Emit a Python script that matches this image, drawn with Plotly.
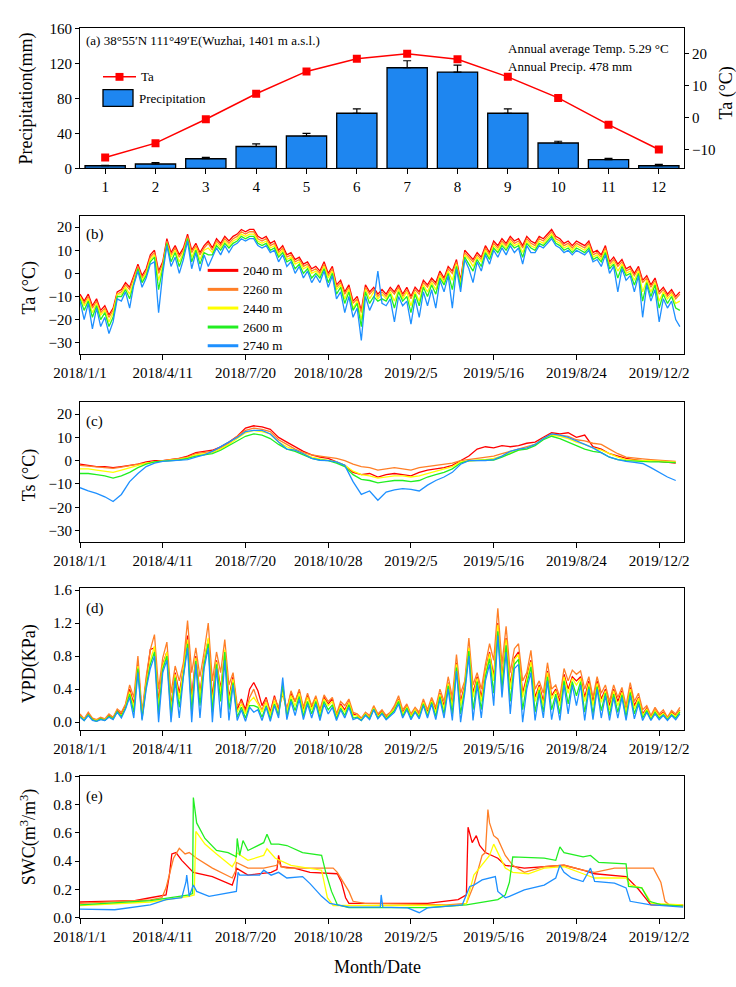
import numpy as np
import pandas as pd
import plotly.graph_objects as go

# ---------------- data ----------------
MONTHS = list(range(1, 13))
PRECIP = [3, 5, 11, 25, 37, 63, 115, 110, 63, 29, 10, 3]
PRECIP_ERR = [0.5, 1.5, 1.5, 3, 3, 5, 8, 8, 5, 2, 1.5, 1.5]
TA_MONTH = [-12.5, -8, -0.5, 7.5, 14.5, 18.5, 20, 18.3, 12.8, 6.2, -2.2, -10]

ELEV = ["2040 m", "2260 m", "2440 m", "2600 m", "2740 m"]
COLORS = ["#FF0000", "#FF7F27", "#FFFF00", "#22EE22", "#1E90FF"]
START = pd.Timestamp("2018-01-01")
DAYS5 = np.arange(0, 730, 5)
DAYS10 = np.arange(0, 730, 10)
TICK_DATES = ["2018-01-01", "2018-04-11", "2018-07-20", "2018-10-28",
              "2019-02-05", "2019-05-16", "2019-08-24", "2019-12-02"]
TICK_TEXT = ["2018/1/1", "2018/4/11", "2018/7/20", "2018/10/28",
             "2019/2/5", "2019/5/16", "2019/8/24", "2019/12/2"]

# (b) air temperature, every 5 days
TA_2040 = [-9,-12,-9,-14,-11,-16,-14,-18,-15,-8, -7,-4,-6,-1,4,-1,2,8,10,1,
           5,15,9,12,8,11,17,10,13,9, 12,14,11,15,13,16,14,16,17,19,
           18,19,19,16,15,16,13,14,10,12, 8,9,6,7,4,5,2,3,1,5,
           0,3,-5,-3,-8,-5,-12,-10,-16,-5, -8,-6,-9,-7,-9,-6,-8,-5,-9,-6,
           -10,-6,-8,-3,-5,-2,-4,1,-2,3, 1,6,-3,10,8,6,9,7,12,9,
           14,12,15,13,16,14,15,12,16,14, 13,16,15,17,19,16,15,13,14,12,
           14,13,12,14,9,10,8,12,5,7, 4,6,2,3,0,3,-3,-1,-5,-2, -8,-6,-9,-7,-10,-8]
TA_2260 = [-10,-13,-10,-15,-12,-17,-15,-19,-16,-9, -8,-5,-7,-2,3,-2,1,7,9,0,
           4,14,8,11,7,10,16,9,12,8, 11,13,10,14,12,15,13,15,16,18,
           17,18,18,15,14,15,12,13,9,11, 7,8,5,6,3,4,1,2,0,4,
           -1,2,-6,-4,-9,-6,-13,-11,-17,-6, -9,-7,-10,-8,-10,-7,-9,-6,-10,-7,
           -11,-7,-9,-4,-6,-3,-5,0,-3,2, 0,5,-4,9,7,5,8,6,11,8,
           13,11,14,12,15,13,14,11,15,13, 12,15,14,16,18,15,14,12,13,11,
           13,12,11,13,8,9,7,11,4,6, 3,5,1,2,-1,2,-4,-2,-6,-3, -9,-7,-10,-8,-11,-9]
TA_2440 = [-10,-14,-11,-17,-13,-18,-16,-21,-17,-9, -9,-6,-9,-3,2,-3,0,6,8,-3,
           3,13,7,10,5,9,15,7,11,6, 10,11,9,13,11,14,12,14,15,17,
           16,17,17,14,13,14,11,12,8,10, 6,7,4,5,2,3,0,1,-1,3,
           -2,1,-7,-5,-11,-7,-15,-12,-20,-7, -11,-8,-11,-9,-11,-8,-12,-7,-11,-8,
           -14,-8,-12,-5,-8,-4,-7,-1,-4,1, -3,4,-5,8,6,3,7,5,10,7,
           12,10,13,11,14,12,13,9,14,12, 11,14,13,15,17,14,13,11,12,10,
           12,11,10,12,7,8,6,10,3,5, 1,4,0,1,-3,1,-8,-3,-8,-4, -12,-8,-11,-9,-13,-12]
TA_2600 = [-11,-16,-12,-19,-14,-20,-17,-23,-19,-10, -10,-7,-11,-4,2,-4,-1,5,7,-7,
           2,13,5,9,3,8,15,5,10,4, 9,8,8,12,10,13,11,13,14,16,
           15,16,16,13,12,13,10,11,7,9, 5,6,2,4,0,2,-2,0,-2,2,
           -4,0,-9,-6,-13,-8,-16,-13,-23,-8, -13,-10,-12,-11,-12,-9,-15,-8,-12,-10,
           -17,-9,-14,-6,-10,-5,-9,-2,-5,0, -7,3,-6,7,4,1,6,3,9,6,
           11,9,12,10,13,11,12,7,13,11, 10,13,12,14,16,13,12,10,11,9,
           11,10,9,11,6,7,5,9,2,4, -2,3,-1,0,-5,0,-12,-4,-10,-5, -15,-9,-13,-10,-15,-16]
TA_2740 = [-12,-20,-13,-24,-15,-23,-19,-26,-21,-11, -12,-8,-15,-5,1,-6,-2,4,5,-17,
           0,12,3,7,0,6,14,2,9,1, 8,3,7,11,8,12,9,12,13,15,
           14,15,15,12,11,12,9,10,5,8, 3,5,0,3,-2,1,-4,-1,-4,1,
           -6,-1,-11,-8,-17,-10,-19,-15,-29,-10, -16,-12,1,-13,-14,-11,-21,-10,-14,-12,
           -22,-11,-19,-8,-14,-7,-15,-3,-8,-1, -15,2,-8,6,2,-4,5,1,8,4,
           10,7,11,8,12,9,11,4,12,9, 9,12,11,13,15,12,11,9,10,8,
           10,9,8,10,5,6,3,8,0,3, -8,2,-3,-1,-8,-1,-19,-5,-12,-7, -21,-11,-15,-12,-20,-23]

# (c) soil temperature, every 10 days
TS_2040 = [-1.5,-2,-2.5,-2.5,-3,-2.5,-2,-1.5,-0.5,0, 0,0.5,1,2,3.5,4,4.5,6,8,10.5,
           14,15,14.5,13.5,10,8,6,4,2.5,1.5, 1,-0.5,-2,-5,-6,-5.5,-7,-6,-5.5,-6,
           -6.5,-5,-4,-3.5,-3,-2,0,2,5,6, 5.5,6.5,6,6.5,7.5,8,10,12,11.5,12,
           10,11,6,5,3,2,1,0.5,0,0, -0.3,-0.5,-1]
TS_2260 = [-2,-2.3,-2.7,-3,-3.3,-2.8,-2,-1.5,-1,-0.5, 0,0.3,0.8,1.5,3,3.5,4,5.5,7.5,10.5,
           13,14,13.5,12.5,9,7,5,3.5,2.5,2, 1.5,1,0,-1.5,-2.5,-3,-4,-3.5,-3,-3.5,
           -4,-3,-2.5,-2,-1.5,-1,0,0.5,1,1.5, 2,3,4,5,6,7,9.5,11.5,11,10.5,
           9,8.5,7.5,7,5,3,1.5,1,0.8,0.5, 0.3,0,-0.3]
TS_2440 = [-3.5,-3.5,-4,-4.5,-5,-4,-3,-2,-1,-0.5, 0,0.2,0.6,1.2,2.5,3,3.5,5,7,9.5,
           12,13,12.5,11.5,8,6,4.5,3,1.5,0.8, 0.3,-0.5,-2,-4.5,-6,-6.5,-7.5,-7,-6.5,-6.5,
           -7,-6.5,-5.5,-4.5,-3.5,-2.5,-0.5,0,0.2,0.5, 1,2,3.5,4.5,5.5,7,9.5,11,10.5,9.5,
           8,7,5.5,4.5,3,1.5,0.5,0.2,0,0, -0.2,-0.4,-0.6]
TS_2600 = [-5.5,-5.5,-6,-6.5,-7.5,-6.5,-5,-3,-1.5,-0.5, -0.2,0,0.3,1,2,2.5,3,4.5,6.5,8.5,
           10.5,11.5,11,9.5,7,5,4,2.5,1,0.3, 0,-1,-2.5,-6,-8,-8.5,-9.5,-9,-8.5,-8.5,
           -9,-8.5,-7,-6,-5,-3.5,-1,0,0,0, 0.3,1.5,3,4.5,5,6.5,9,10.5,9.5,8,
           6.5,5,4,3.5,1.5,0.5,0,-0.2,-0.5,-0.5, -0.5,-0.6,-0.8]
TS_2740 = [-11.6,-13,-14,-15.5,-17.5,-14.5,-9,-5.5,-2.5,-1, -0.3,0,0.3,0.5,1.5,2.5,4,6,8,10,
           12.5,13,13,11.5,8,5,4.5,3,1,0.2, 0,-0.5,-2,-9,-14.5,-13,-17,-13.5,-12.5,-12,
           -12.3,-13,-10.5,-8.5,-7,-5,-1.5,0,0,0, 0.5,2,4,5,5.5,7,9.5,11.5,11,10,
           8.5,7,5.5,3.5,1.5,0.5,-0.3,-0.7,-1.2,-3, -5,-7,-8.5]

# (d) VPD, every 5 days
VPD_2040 = [0.08,0.03,0.10,0.04,0.02,0.05,0.03,0.08,0.05,0.14, 0.10,0.20,0.40,0.22,0.70,0.08,0.50,0.88,0.90,0.25,
            0.70,0.85,0.20,0.60,0.35,0.65,1.05,0.30,0.80,0.35, 0.75,1.00,0.30,0.75,0.40,0.85,0.30,0.55,0.15,0.28,
            0.15,0.40,0.48,0.38,0.20,0.30,0.12,0.32,0.15,0.35, 0.15,0.35,0.25,0.38,0.15,0.33,0.18,0.30,0.12,0.30,
            0.22,0.28,0.08,0.22,0.15,0.25,0.10,0.08,0.04,0.10, 0.06,0.18,0.08,0.13,0.06,0.10,0.17,0.28,0.12,0.20,
            0.08,0.15,0.10,0.25,0.12,0.27,0.15,0.35,0.20,0.48, 0.22,0.72,0.25,0.45,0.90,0.35,0.55,0.30,0.62,0.85,
            0.55,1.20,0.55,1.02,0.45,0.78,0.85,0.35,0.55,0.75, 0.30,0.45,0.25,0.62,0.32,0.40,0.25,0.58,0.40,0.55,
            0.50,0.55,0.30,0.50,0.25,0.50,0.28,0.40,0.20,0.40, 0.25,0.38,0.15,0.42,0.20,0.30,0.10,0.17,0.06,0.15,
            0.08,0.12,0.05,0.12,0.08,0.15]
VPD_2260 = [0.10,0.04,0.12,0.05,0.03,0.06,0.04,0.10,0.06,0.16, 0.12,0.22,0.45,0.30,0.80,0.12,0.55,0.88,1.06,0.40,
            0.78,0.97,0.35,0.68,0.50,0.72,1.23,0.60,0.90,0.55, 0.85,1.20,0.50,0.85,0.60,1.00,0.45,0.60,0.20,0.25,
            0.12,0.30,0.40,0.25,0.15,0.28,0.10,0.30,0.18,0.40, 0.15,0.38,0.25,0.40,0.18,0.35,0.20,0.32,0.15,0.33,
            0.25,0.30,0.10,0.25,0.20,0.28,0.12,0.10,0.05,0.12, 0.08,0.20,0.10,0.15,0.08,0.12,0.20,0.32,0.15,0.22,
            0.10,0.18,0.12,0.28,0.15,0.30,0.18,0.40,0.25,0.55, 0.30,0.82,0.35,0.50,1.02,0.45,0.60,0.40,0.70,0.95,
            0.75,1.38,0.70,1.16,0.60,0.89,0.95,0.50,0.60,0.87, 0.40,0.50,0.35,0.72,0.40,0.45,0.30,0.65,0.50,0.63,
            0.58,0.62,0.40,0.55,0.30,0.55,0.35,0.45,0.25,0.45, 0.30,0.42,0.20,0.48,0.25,0.35,0.15,0.20,0.08,0.18,
            0.10,0.15,0.06,0.14,0.10,0.18]
VPD_2440 = [0.07,0.03,0.09,0.03,0.02,0.04,0.03,0.07,0.04,0.13, 0.08,0.18,0.37,0.18,0.68,0.06,0.46,0.75,0.92,0.18,
            0.68,0.85,0.15,0.58,0.28,0.62,1.00,0.22,0.78,0.30, 0.73,1.02,0.22,0.73,0.35,0.88,0.25,0.52,0.12,0.22,
            0.10,0.25,0.30,0.22,0.12,0.24,0.08,0.26,0.12,0.36, 0.12,0.32,0.20,0.35,0.12,0.30,0.15,0.28,0.10,0.28,
            0.20,0.25,0.06,0.20,0.12,0.24,0.08,0.08,0.03,0.10, 0.05,0.17,0.07,0.12,0.05,0.10,0.16,0.27,0.10,0.19,
            0.07,0.15,0.08,0.24,0.10,0.26,0.12,0.34,0.16,0.47, 0.18,0.70,0.20,0.43,0.90,0.30,0.53,0.25,0.60,0.83,
            0.50,1.18,0.50,1.00,0.40,0.76,0.82,0.30,0.52,0.73, 0.25,0.43,0.20,0.60,0.28,0.38,0.20,0.55,0.35,0.53,
            0.45,0.53,0.25,0.47,0.20,0.47,0.24,0.38,0.15,0.38, 0.20,0.36,0.12,0.40,0.16,0.29,0.08,0.16,0.05,0.14,
            0.07,0.11,0.04,0.11,0.07,0.14]
VPD_2600 = [0.07,0.02,0.09,0.03,0.01,0.04,0.02,0.07,0.04,0.13, 0.07,0.17,0.34,0.12,0.65,0.04,0.43,0.70,0.85,0.10,
            0.64,0.80,0.08,0.54,0.18,0.58,0.95,0.12,0.74,0.20, 0.69,0.95,0.12,0.70,0.25,0.85,0.15,0.48,0.06,0.18,
            0.05,0.20,0.20,0.18,0.06,0.20,0.04,0.22,0.08,0.45, 0.07,0.28,0.14,0.31,0.07,0.25,0.10,0.25,0.05,0.25,
            0.15,0.21,0.04,0.17,0.08,0.21,0.05,0.06,0.02,0.09, 0.04,0.16,0.05,0.11,0.04,0.09,0.14,0.25,0.07,0.17,
            0.05,0.13,0.06,0.22,0.07,0.24,0.07,0.31,0.10,0.44, 0.10,0.66,0.10,0.39,0.86,0.15,0.49,0.15,0.55,0.77,
            0.35,1.10,0.40,0.93,0.25,0.70,0.76,0.15,0.46,0.67, 0.12,0.39,0.12,0.55,0.15,0.34,0.10,0.50,0.22,0.49,
            0.32,0.49,0.12,0.43,0.10,0.43,0.14,0.35,0.08,0.34, 0.12,0.33,0.06,0.36,0.10,0.25,0.05,0.14,0.03,0.12,
            0.05,0.09,0.03,0.09,0.05,0.12]
VPD_2740 = [0.06,0.02,0.08,0.02,0.01,0.03,0.02,0.06,0.03,0.12, 0.05,0.16,0.30,0.05,0.60,0.02,0.40,0.65,0.80,0.00,
            0.60,0.75,0.00,0.50,0.05,0.55,0.90,0.00,0.70,0.05, 0.65,0.90,0.00,0.65,0.05,0.75,0.02,0.45,0.02,0.15,
            0.01,0.18,0.12,0.15,0.02,0.18,0.01,0.20,0.05,0.54, 0.03,0.25,0.08,0.28,0.03,0.22,0.05,0.22,0.02,0.22,
            0.10,0.18,0.02,0.15,0.05,0.18,0.03,0.05,0.02,0.08, 0.03,0.15,0.04,0.10,0.03,0.08,0.12,0.22,0.05,0.15,
            0.03,0.12,0.04,0.20,0.05,0.22,0.03,0.28,0.05,0.40, 0.02,0.62,0.00,0.35,0.80,0.02,0.45,0.05,0.50,0.70,
            0.20,1.05,0.30,0.85,0.10,0.65,0.70,0.00,0.40,0.60, 0.02,0.35,0.05,0.50,0.03,0.30,0.02,0.45,0.10,0.45,
            0.20,0.45,0.02,0.40,0.03,0.40,0.05,0.32,0.02,0.30, 0.05,0.30,0.02,0.32,0.04,0.22,0.02,0.12,0.02,0.10,
            0.03,0.08,0.02,0.08,0.03,0.10]

# (e) soil water content, (day since 2018-01-01, value) break points
SWC_2040_DAY = [0,66,85,104,108,111,116,123,137,160, 184,188,189,203,231,238,240,243,259,278,
                311,316,321,325,420,457,467,469,474,479, 483,490,505,514,537,561,585,608,622,660, 675,690,729]
SWC_2040 = [0.11,0.12,0.14,0.16,0.30,0.45,0.46,0.405,0.32,0.29, 0.23,0.30,0.35,0.30,0.32,0.34,0.44,0.36,0.35,0.32,
            0.31,0.25,0.14,0.10,0.10,0.127,0.16,0.64,0.53,0.58, 0.51,0.46,0.42,0.37,0.35,0.36,0.37,0.335,0.31,0.29,
            0.20,0.09,0.085]
SWC_2260_DAY = [0,85,99,104,113,120,127,132,141,160, 184,188,189,203,222,238,240,243,250,278,
                306,311,325,330,344,443,467,476,486,490, 493,495,500,505,514,523,537,561,585,608,
                622,646,693,702,707,712,729]
SWC_2260 = [0.10,0.125,0.14,0.21,0.42,0.49,0.45,0.46,0.42,0.35, 0.28,0.33,0.39,0.35,0.35,0.37,0.40,0.36,0.35,0.35,
            0.35,0.32,0.185,0.115,0.10,0.09,0.10,0.23,0.44,0.46, 0.765,0.67,0.58,0.556,0.44,0.37,0.32,0.36,0.37,0.335,
            0.32,0.35,0.35,0.25,0.115,0.09,0.09]
SWC_2440_DAY = [0,85,132,138,140,151,165,184,188,189, 203,222,226,236,255,278,292,299,306,457,
                467,476,486,495,500,514,523,542,561,585, 608,622,660,665,679,691,729]
SWC_2440 = [0.085,0.11,0.15,0.16,0.61,0.52,0.45,0.36,0.40,0.46, 0.405,0.44,0.487,0.42,0.37,0.35,0.335,0.14,0.085,0.085,
            0.10,0.30,0.37,0.44,0.52,0.35,0.32,0.31,0.35,0.36, 0.31,0.28,0.28,0.23,0.21,0.10,0.09]
SWC_2600_DAY = [0,85,132,136,137,141,151,165,179,189, 190,193,197,203,222,226,231,240,250,269,
                292,297,304,311,325,420,467,505,514,519, 523,561,575,580,585,608,617,627,660,663,
                679,688,702,729]
SWC_2600 = [0.09,0.12,0.16,0.17,0.85,0.67,0.56,0.475,0.46,0.43, 0.56,0.44,0.545,0.475,0.53,0.59,0.52,0.52,0.51,0.46,
            0.44,0.32,0.185,0.09,0.07,0.07,0.09,0.127,0.16,0.25, 0.43,0.42,0.405,0.50,0.46,0.43,0.44,0.39,0.38,0.22,
            0.21,0.115,0.092,0.08]
SWC_2740_DAY = [0,42,85,104,123,128,129,131,132,137, 141,156,174,189,191,193,217,222,231,240,
                250,269,278,292,302,325,363,364,366,396, 410,420,462,471,476,486,502,505,514,519,
                537,561,575,580,585,594,608,617,622,646, 660,665,688,729]
SWC_2740 = [0.06,0.055,0.09,0.127,0.14,0.25,0.30,0.20,0.15,0.23, 0.185,0.15,0.17,0.185,0.32,0.30,0.30,0.335,0.30,0.32,
            0.28,0.29,0.24,0.15,0.10,0.073,0.073,0.16,0.073,0.068, 0.034,0.068,0.09,0.22,0.23,0.266,0.29,0.185,0.14,0.15,
            0.196,0.23,0.28,0.37,0.32,0.28,0.255,0.35,0.255,0.243, 0.21,0.115,0.092,0.073]

# ---------------- helpers ----------------
W, H = 736, 987
ML, MR = 80, 52
PW = W - ML - MR


def px(x):
    return (x - ML) / PW


def py(y):
    return 1 - y / H


def to_dates(days):
    return START + pd.to_timedelta(np.asarray(days), unit="D")


FONT = "Liberation Serif, Times New Roman, serif"
BAR_BLUE = "#1E86F0"

fig = go.Figure()

# (a)
fig.add_trace(go.Bar(x=MONTHS, y=PRECIP, xaxis="x", yaxis="y", width=0.8,
                     marker=dict(color=BAR_BLUE, line=dict(color="black", width=1.3)),
                     error_y=dict(type="data", symmetric=False, array=PRECIP_ERR,
                                  arrayminus=[0] * 12, color="black", thickness=1.2, width=4),
                     showlegend=False, name="Precipitation"))
fig.add_trace(go.Scatter(x=MONTHS, y=TA_MONTH, xaxis="x", yaxis="y2", mode="lines+markers",
                         line=dict(color="#FF0000", width=1.5),
                         marker=dict(symbol="square", size=8, color="#FF0000"),
                         showlegend=False, name="Ta"))

d5 = to_dates(DAYS5)
d10 = to_dates(DAYS10)
TA = [TA_2040, TA_2260, TA_2440, TA_2600, TA_2740]
TS = [TS_2040, TS_2260, TS_2440, TS_2600, TS_2740]
VPD = [VPD_2040, VPD_2260, VPD_2440, VPD_2600, VPD_2740]
SWC = [(SWC_2040_DAY, SWC_2040), (SWC_2260_DAY, SWC_2260), (SWC_2440_DAY, SWC_2440),
       (SWC_2600_DAY, SWC_2600), (SWC_2740_DAY, SWC_2740)]

for k in range(5):
    fig.add_trace(go.Scatter(x=d5, y=TA[k], xaxis="x2", yaxis="y3", mode="lines",
                             line=dict(color=COLORS[k], width=1.3), showlegend=False, name=ELEV[k]))
for k in range(5):
    fig.add_trace(go.Scatter(x=d10, y=TS[k], xaxis="x3", yaxis="y4", mode="lines",
                             line=dict(color=COLORS[k], width=1.3), showlegend=False, name=ELEV[k]))
for k in range(5):
    fig.add_trace(go.Scatter(x=d5, y=VPD[k], xaxis="x4", yaxis="y5", mode="lines",
                             line=dict(color=COLORS[k], width=1.3), showlegend=False, name=ELEV[k]))
for k in range(5):
    dd, vv = SWC[k]
    fig.add_trace(go.Scatter(x=to_dates(dd), y=vv, xaxis="x5", yaxis="y6", mode="lines",
                             line=dict(color=COLORS[k], width=1.3), showlegend=False, name=ELEV[k]))

# ---------------- layout ----------------
DOM_A = [py(163), py(20.7)]
DOM_B = [py(352), py(211)]
DOM_C = [py(543), py(401)]
DOM_D = [py(734.3), py(590)]
DOM_E = [py(924.5), py(781)]

TICKF = dict(family=FONT, size=15, color="black")
common = dict(showline=True, linecolor="black", linewidth=1.2, mirror=True, showgrid=False,
              zeroline=False, tickfont=TICKF, ticks="outside", ticklen=5, tickcolor="black")


def date_axis(anchor):
    return dict(common, type="date", anchor=anchor, domain=[0, 1],
                range=["2018-01-01", "2020-01-01"], tickvals=TICK_DATES, ticktext=TICK_TEXT)


def y_axis(anchor, dom, rng, tv, fmt=None):
    d = dict(common, anchor=anchor, domain=dom, range=rng, tickvals=tv, ticklen=4)
    if fmt:
        d["tickformat"] = fmt
    return d


layout = dict(
    width=W, height=H, margin=dict(l=ML, r=MR, t=0, b=0),
    paper_bgcolor="white", plot_bgcolor="white",
    font=dict(family=FONT, color="black"),
    showlegend=False,
    xaxis=dict(common, anchor="y", domain=[0, 1], range=[0.5, 12.5], tickvals=MONTHS),
    yaxis=y_axis("x", DOM_A, [0, 160], [0, 40, 80, 120, 160]),
    yaxis2=dict(overlaying="y", anchor="x", side="right", range=[-15.9, 28],
                tickvals=[-10, 0, 10, 20], showgrid=False, zeroline=False, showline=False,
                ticks="outside", ticklen=4, tickcolor="black", tickfont=TICKF),
    xaxis2=date_axis("y3"),
    yaxis3=y_axis("x2", DOM_B, [-35, 25], [-30, -20, -10, 0, 10, 20]),
    xaxis3=date_axis("y4"),
    yaxis4=y_axis("x3", DOM_C, [-35, 25], [-30, -20, -10, 0, 10, 20]),
    xaxis4=date_axis("y5"),
    yaxis5=y_axis("x4", DOM_D, [-0.1, 1.62], [0, 0.4, 0.8, 1.2, 1.6], ".1f"),
    xaxis5=date_axis("y6"),
    yaxis6=y_axis("x5", DOM_E, [0, 1.0], [0, 0.2, 0.4, 0.6, 0.8, 1.0], ".1f"),
)
fig.update_layout(**layout)


def ann(text, x, y, size=13, xanchor="left", angle=0):
    fig.add_annotation(text=text, x=px(x), y=py(y), xref="paper", yref="paper",
                       showarrow=False, xanchor=xanchor, yanchor="middle", textangle=angle,
                       font=dict(family=FONT, size=size, color="black"))


ann("(a) 38°55′N 111°49′E(Wuzhai, 1401 m a.s.l.)", 84, 33)
ann("Annual average Temp. 5.29 °C", 506, 41)
ann("Annual Precip. 478 mm", 506, 59)
ann("Ta", 139, 70)
ann("Precipitation", 137, 92)
ann("(b)", 84, 230, 15)
ann("(c)", 84, 420, 15)
ann("(d)", 84, 610, 15)
ann("(e)", 84, 801, 15)
ann("Precipitation(mm)", 27, 92, 18, "center", -90)
ann("Ta (°C)", 29, 285, 18, "center", -90)
ann("Ts (°C)", 29, 475, 18, "center", -90)
ann("VPD(KPa)", 29, 667, 18, "center", -90)
ann("SWC(m<sup>3</sup>/m<sup>3</sup>)", 29, 843, 18, "center", -90)
ann("Ta (°C)", 727, 87, 18, "center", -90)
ann("Month/Date", 377, 975, 18, "center")

# legend for (a)
fig.add_shape(type="line", xref="paper", yref="paper", x0=px(103), x1=px(136), y0=py(70), y1=py(70),
              line=dict(color="#FF0000", width=1.5))
fig.add_shape(type="rect", xref="paper", yref="paper", x0=px(115.5), x1=px(123.5), y0=py(66), y1=py(74),
              fillcolor="#FF0000", line=dict(color="#FF0000", width=0))
fig.add_shape(type="rect", xref="paper", yref="paper", x0=px(103), x1=px(133), y0=py(83), y1=py(100),
              fillcolor=BAR_BLUE, line=dict(color="black", width=1.3))

# legend for (b)
LEG_ROWS = [266.7, 286, 305, 324.3, 343.3]
for k in range(5):
    fig.add_shape(type="line", xref="paper", yref="paper", x0=px(207.7), x1=px(238.3),
                  y0=py(LEG_ROWS[k]), y1=py(LEG_ROWS[k]), line=dict(color=COLORS[k], width=3))
    ann(ELEV[k], 241, LEG_ROWS[k], 13)

fig.write_html("out.html")
